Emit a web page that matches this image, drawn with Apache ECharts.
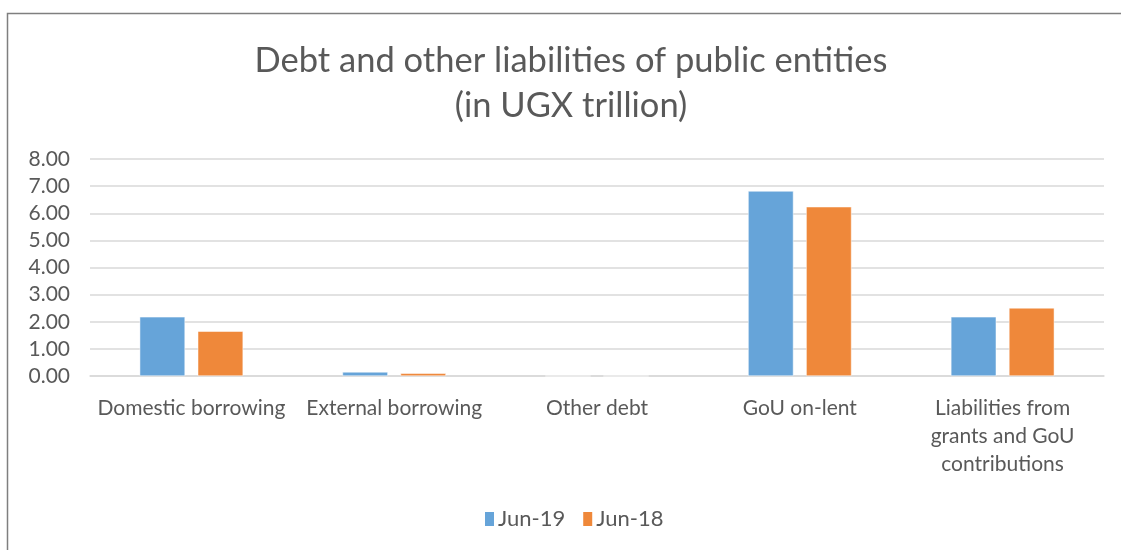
<!DOCTYPE html>
<html>
<head>
<meta charset="utf-8">
<script src="https://cdn.jsdelivr.net/npm/echarts@6/dist/echarts.min.js"></script>
<style>
  html, body { margin: 0; padding: 0; background: #fff; }
  #chart { width: 1121px; height: 550px; }
</style>
</head>
<body>
<div id="chart"></div>
<script>
// Debt categories and values (UGX trillion)
const categories = [
  'Domestic borrowing',
  'External borrowing',
  'Other debt',
  'GoU on-lent',
  'Liabilities from\ngrants and GoU\ncontributions'
];
const jun19 = [2.18, 0.15, 0.00, 6.82, 2.18];
const jun18 = [1.65, 0.10, 0.00, 6.24, 2.51];
const seriesNames = ['Jun-19', 'Jun-18'];
const yTicks = { min: 0, max: 8, interval: 1 };
const titleText = 'Debt and other liabilities of public entities\n(in UGX trillion)';

const FONT = 'Lato';
const TEXT = '#595959';

const chart = echarts.init(document.getElementById('chart'), null, { renderer: 'canvas' });
chart.setOption({
  animation: false,
  backgroundColor: '#fff',
  legend: {
    data: seriesNames,
    bottom: 15,
    left: 478,
    itemWidth: 11,
    itemHeight: 16,
    itemGap: 16,
    icon: 'rect',
    textStyle: { fontFamily: FONT, fontSize: 22, color: TEXT, padding: [0, 0, 0, -2] }
  },
  grid: { left: 90, right: 17, top: 159, bottom: 174, containLabel: false },
  xAxis: {
    type: 'category',
    data: categories,
    axisLine: { lineStyle: { color: '#d9d9d9', width: 1.5 } },
    axisTick: { show: false },
    axisLabel: {
      fontFamily: FONT,
      fontSize: 21,
      color: TEXT,
      margin: 18,
      lineHeight: 28,
      interval: 0
    }
  },
  yAxis: {
    type: 'value',
    min: yTicks.min,
    max: yTicks.max,
    interval: yTicks.interval,
    axisLine: { show: false },
    axisTick: { show: false },
    splitLine: { lineStyle: { color: '#d9d9d9', width: 1.5 } },
    axisLabel: {
      fontFamily: FONT,
      fontSize: 21,
      color: TEXT,
      margin: 20,
      formatter: v => v.toFixed(2)
    }
  },
  series: [
    {
      name: seriesNames[0],
      type: 'bar',
      data: jun19,
      barGap: '28%',
      barCategoryGap: '49%',
      itemStyle: { color: '#66a4d9', borderColor: '#ffffff', borderWidth: 0.5 }
    },
    {
      name: seriesNames[1],
      type: 'bar',
      data: jun18,
      itemStyle: { color: '#ef883a', borderColor: '#ffffff', borderWidth: 0.5 }
    }
  ],
  graphic: [
    {
      type: 'text',
      x: 571,
      y: 38,
      style: {
        text: titleText,
        fontFamily: FONT,
        fontSize: 34.5,
        lineHeight: 45,
        fill: TEXT,
        align: 'center',
        verticalAlign: 'top'
      }
    },
    {
      type: 'polyline',
      shape: { points: [[7.5, 550], [7.5, 13.5], [1121, 13.5]] },
      style: { stroke: '#7f7f7f', lineWidth: 1.5, fill: null }
    }
  ]
});
</script>
</body>
</html>
